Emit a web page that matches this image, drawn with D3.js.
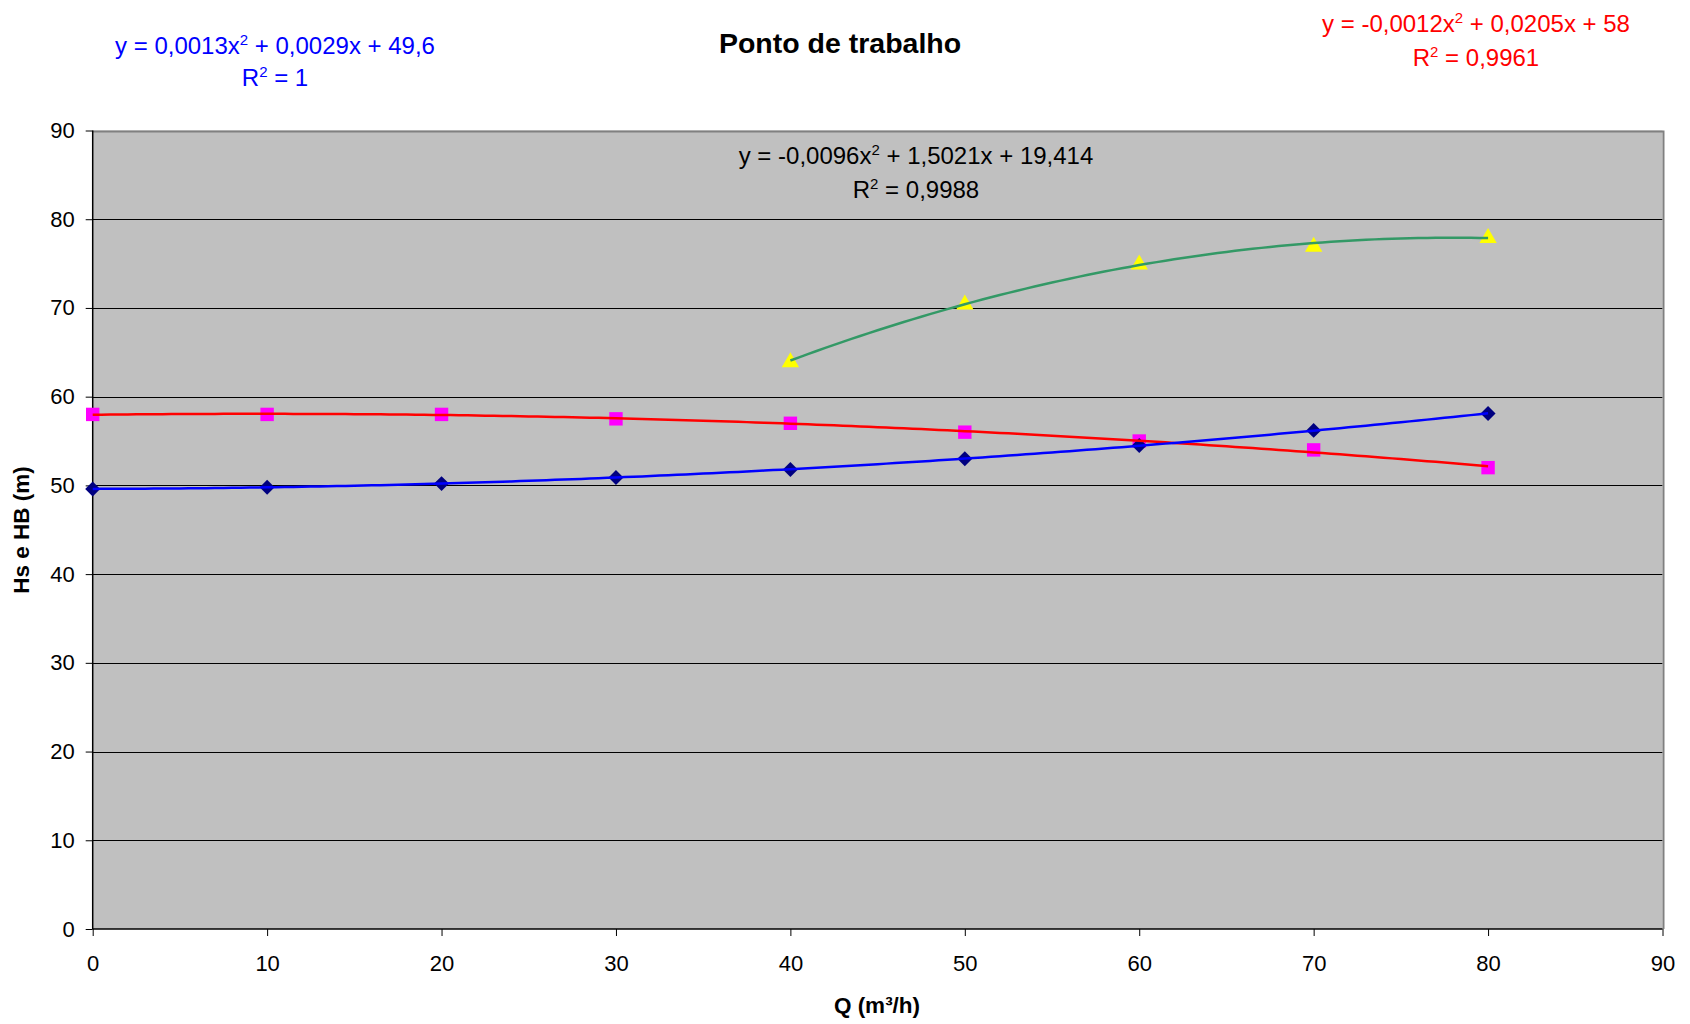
<!DOCTYPE html>
<html>
<head>
<meta charset="utf-8">
<script src="https://cdn.jsdelivr.net/npm/d3@7"></script>
<style>
  html, body { margin: 0; padding: 0; background: #fff; }
  svg { display: block; font-family: "Liberation Sans", Arial, sans-serif; }
</style>
</head>
<body>
<svg id="chart" width="1690" height="1024"></svg>
<script>
// ---- data ----
const chartTitle = "Ponto de trabalho";
const xTitle = "Q (m³/h)";
const yTitle = "Hs e HB (m)";
const xTicks = [0, 10, 20, 30, 40, 50, 60, 70, 80, 90];
const yTicks = [0, 10, 20, 30, 40, 50, 60, 70, 80, 90];

const qSystem = [0, 10, 20, 30, 40, 50, 60, 70, 80];
const hsSystem = [49.6, 49.8, 50.2, 50.9, 51.8, 53.0, 54.5, 56.2, 58.1];

const qPump = [0, 10, 20, 30, 40, 50, 60, 70, 80];
const hbPump = [58, 58, 58, 57.5, 57, 56, 55, 54, 52];

const qThird = [40, 50, 60, 70, 80];
const hThird = [64, 70.5, 75, 77, 78];

const eqSystem = ["y = 0,0013x", "2", " + 0,0029x + 49,6"];
const r2System = ["R", "2", " = 1"];
const eqPump = ["y = -0,0012x", "2", " + 0,0205x + 58"];
const r2Pump = ["R", "2", " = 0,9961"];
const eqThird = ["y = -0,0096x", "2", " + 1,5021x + 19,414"];
const r2Third = ["R", "2", " = 0,9988"];

// ---- layout ----
const svg = d3.select("#chart");
const W = 1690, H = 1024;
const L = 92.7, R = 1662.5, T = 130.5, B = 929;

svg.append("rect").attr("width", W).attr("height", H).attr("fill", "#fff");

const x = d3.scaleLinear().domain([0, 90]).range([L, R]);
const y = d3.scaleLinear().domain([0, 90]).range([B, T]);

// plot background
svg.append("rect").attr("x", L).attr("y", T).attr("width", R - L).attr("height", B - T)
  .attr("fill", "#C0C0C0");

// gridlines
svg.append("g").selectAll("line").data(yTicks.filter(d => d > 0 && d < 90)).join("line")
  .attr("x1", L).attr("x2", R)
  .attr("y1", d => Math.round(y(d)) + 0.5).attr("y2", d => Math.round(y(d)) + 0.5)
  .attr("stroke", "#000").attr("stroke-width", 1);

// plot border (top/right gray)
svg.append("path")
  .attr("d", `M${L},${Math.round(T)+0.5}H${Math.round(R)+0.5}V${B}`)
  .attr("fill", "none").attr("stroke", "#808080").attr("stroke-width", 2);

// axes
const xAxis = d3.axisBottom(x).tickValues(xTicks).tickSize(7).tickPadding(19).tickFormat(d3.format("d"));
const yAxis = d3.axisLeft(y).tickValues(yTicks).tickSize(7).tickPadding(11).tickFormat(d3.format("d"));

const gx = svg.append("g").attr("transform", `translate(0,${B})`).call(xAxis);
const gy = svg.append("g").attr("transform", `translate(${L},0)`).call(yAxis);
[gx, gy].forEach(g => {
  g.select(".domain").remove();
  g.selectAll(".tick line").attr("stroke", "#000").attr("stroke-width", 1);
  g.selectAll(".tick text").attr("fill", "#000").style("font-size", "22px")
    .style("font-family", "'Liberation Sans', Arial, sans-serif");
});
svg.append("line").attr("x1", L).attr("x2", L).attr("y1", T).attr("y2", B)
  .attr("stroke", "#000").attr("stroke-width", 1.5);
svg.append("line").attr("x1", L).attr("x2", R).attr("y1", B).attr("y2", B)
  .attr("stroke", "#000").attr("stroke-width", 1.5);

// ---- quadratic least-squares trendline ----
function quadFit(xs, ys) {
  let S = [0, 0, 0, 0, 0], Ty = [0, 0, 0];
  xs.forEach((xv, i) => {
    for (let k = 0; k < 5; k++) S[k] += Math.pow(xv, k);
    for (let k = 0; k < 3; k++) Ty[k] += ys[i] * Math.pow(xv, k);
  });
  const A = [[S[0], S[1], S[2], Ty[0]], [S[1], S[2], S[3], Ty[1]], [S[2], S[3], S[4], Ty[2]]];
  for (let i = 0; i < 3; i++) {
    for (let j = i + 1; j < 3; j++) {
      const f = A[j][i] / A[i][i];
      for (let k = i; k < 4; k++) A[j][k] -= f * A[i][k];
    }
  }
  const c = [0, 0, 0];
  for (let i = 2; i >= 0; i--) {
    let s = A[i][3];
    for (let k = i + 1; k < 3; k++) s -= A[i][k] * c[k];
    c[i] = s / A[i][i];
  }
  return xv => c[0] + c[1] * xv + c[2] * xv * xv;
}
function trend(xs, ys) {
  const f = quadFit(xs, ys);
  const lo = d3.min(xs), hi = d3.max(xs);
  return d3.range(lo, hi + 0.001, 0.5).map(v => [v, f(v)]);
}
const line = d3.line().x(d => x(d[0])).y(d => y(d[1])).curve(d3.curveLinear);

// markers
const sym = (type, size) => d3.symbol().type(type).size(size)();
svg.append("g").selectAll("path").data(qPump.map((q, i) => [q, hbPump[i]])).join("path")
  .attr("transform", d => `translate(${x(d[0])},${y(d[1])})`)
  .attr("d", sym(d3.symbolSquare, 180)).attr("fill", "#FF00FF");
svg.append("g").selectAll("path").data(qSystem.map((q, i) => [q, hsSystem[i]])).join("path")
  .attr("transform", d => `translate(${x(d[0])},${y(d[1])}) rotate(45)`)
  .attr("d", sym(d3.symbolSquare, 112)).attr("fill", "#000080");
svg.append("g").selectAll("path").data(qThird.map((q, i) => [q, hThird[i]])).join("path")
  .attr("transform", d => `translate(${x(d[0])},${y(d[1]) + 1})`)
  .attr("d", sym(d3.symbolTriangle, 130)).attr("fill", "#FFFF00");

// trendlines
svg.append("path").attr("d", line(trend(qPump, hbPump)))
  .attr("fill", "none").attr("stroke", "#FF0000").attr("stroke-width", 2.5);
svg.append("path").attr("d", line(trend(qSystem, hsSystem)))
  .attr("fill", "none").attr("stroke", "#0000FF").attr("stroke-width", 2.5);
svg.append("path").attr("d", line(trend(qThird, hThird)))
  .attr("fill", "none").attr("stroke", "#339966").attr("stroke-width", 2.5);

// ---- text ----
function eqText(parts, cx, by, color) {
  const t = svg.append("text").attr("x", cx).attr("y", by).attr("text-anchor", "middle")
    .attr("fill", color).style("font-size", "24px");
  t.append("tspan").text(parts[0]);
  t.append("tspan").text(parts[1]).attr("dy", -9).style("font-size", "15px");
  t.append("tspan").text(parts[2]).attr("dy", 9).style("font-size", "24px");
}
eqText(eqSystem, 275, 54, "#0000FF");
eqText(r2System, 275, 86, "#0000FF");
eqText(eqPump, 1476, 32, "#FF0000");
eqText(r2Pump, 1476, 66, "#FF0000");
eqText(eqThird, 916, 164, "#000");
eqText(r2Third, 916, 198, "#000");

svg.append("text").attr("x", 840).attr("y", 53).attr("text-anchor", "middle")
  .style("font-size", "28.5px").style("font-weight", "bold").text(chartTitle);
svg.append("text").attr("x", 877).attr("y", 1013).attr("text-anchor", "middle")
  .style("font-size", "22.5px").style("font-weight", "bold").text(xTitle);
svg.append("text").attr("transform", `translate(29,530) rotate(-90)`).attr("text-anchor", "middle")
  .style("font-size", "22.5px").style("font-weight", "bold").text(yTitle);
</script>
</body>
</html>
